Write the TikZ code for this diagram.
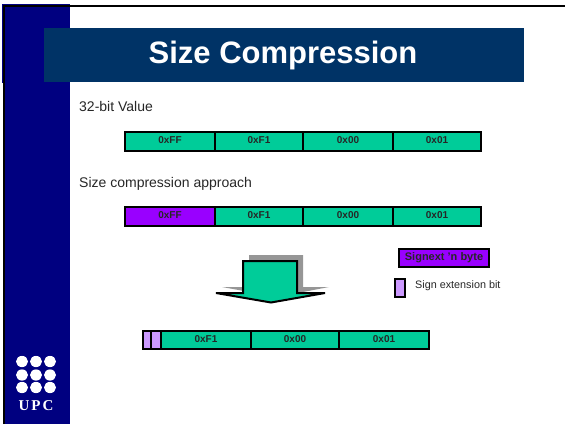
\documentclass[tikz,border=0pt]{standalone}
\usepackage{xcolor}
\usepackage{fontspec}
\setmainfont{Liberation Sans}
\newfontfamily\logofont{Liberation Serif}
\definecolor{sidenavy}{RGB}{0,0,128}
\definecolor{titleblue}{RGB}{0,51,102}
\definecolor{cellgreen}{RGB}{0,204,153}
\definecolor{bytepurple}{RGB}{153,0,255}
\definecolor{bitlilac}{RGB}{204,153,255}
\definecolor{arrowshade}{RGB}{150,150,150}
\usetikzlibrary{positioning}

\begin{document}
\begin{tikzpicture}[x=1pt, y=-1pt,
    cell/.style={rectangle, draw=black, line width=2pt, inner sep=0pt, text depth=2pt, text=black!85, font=\fontsize{10}{12}\selectfont\bfseries},
    bytecell/.style={cell, fill=cellgreen, minimum width=#1, minimum height=19pt},
    signcell/.style={cell, fill=bytepurple, minimum width=#1, minimum height=19pt},
    bitcell/.style={cell, fill=bitlilac, minimum width=#1, minimum height=18pt},
    label/.style={inner sep=0pt, anchor=west, text=black!85, font=\fontsize{14}{16}\selectfont}]
        \useasboundingbox (0,0) rectangle (565,424);

        % Side band and frame
        \fill[sidenavy] (2,4) rectangle (70,83);
        \fill[sidenavy] (4,83) rectangle (70,424);
        \draw[black, line width=2pt] (4,424) -- (4,6) -- (565,6);

        % Title
        \fill[titleblue] (44,28) rectangle (524,82);
        \node[inner sep=0pt, text=white, font=\fontsize{31}{36}\selectfont\bfseries] (title) at (283,55) {Size Compression};

        % 32-bit value
        \node[label] (valuetext) at (79,106.5) {32-bit Value};
        \node[bytecell=90pt] (ffa) at (170,141) {0xFF};
        \node[bytecell=88pt] (f1a) at (259,141) {0xF1};
        \node[bytecell=90pt] (zeroa) at (348,141) {0x00};
        \node[bytecell=88pt] (onea) at (437,141) {0x01};

        % Size compression
        \node[label] (sizetext) at (79,183.5) {Size compression approach};
        \node[signcell=90pt] (ffb) at (170,216.5) {0xFF};
        \node[bytecell=88pt] (f1b) at (259,216.5) {0xF1};
        \node[bytecell=90pt] (zerob) at (348,216.5) {0x00};
        \node[bytecell=88pt] (oneb) at (437,216.5) {0x01};

        % Big arrow
        \fill[arrowshade] (249,255) -- (303,255) -- (303,287) -- (329,287) -- (277,297) -- (222,287) -- (249,287) -- cycle;
        \fill[cellgreen] (243,261) -- (297,261) -- (297,293) -- (325,293) -- (271,302.5) -- (216,293) -- (243,293) -- cycle;
        \draw[black, line width=2pt] (216,293) -- (243,293) -- (243,261) -- (297,261) -- (297,293) -- (325,293) -- (271,302.5) -- cycle;

        % Legend
        \node[cell, fill=bytepurple, minimum width=90pt, minimum height=18pt, font=\fontsize{11}{13}\selectfont\bfseries] (signbyte) at (444,258) {Signext 'n byte};
        \node[bitcell=10pt] (signbit) at (400,288) {};
        \node[inner sep=0pt, anchor=west, text=black!85, font=\fontsize{10.8}{13}\selectfont] (signtext) at (415,285.5) {Sign extension bit};

        % Compressed value
        \node[bitcell=8pt] (bita) at (147,340) {};
        \node[bitcell=10pt] (bitb) at (156,340) {};
        \node[bytecell=90pt, minimum height=18pt] (f1c) at (206,340) {0xF1};
        \node[bytecell=88pt, minimum height=18pt] (zeroc) at (295,340) {0x00};
        \node[bytecell=90pt, minimum height=18pt] (onec) at (384,340) {0x01};

        % Logo
        \foreach \i in {22,36,50} {
            \foreach \j in {361.5,375,387.5} {
                \fill[white] (\i,\j) ellipse (6pt and 5.6pt);
            }
        }
        \node[inner sep=0pt, text=white, font=\logofont\fontsize{15}{17}\selectfont\bfseries] (logotext) at (36,406) {U\kern2pt P\kern2pt C};
    \end{tikzpicture}
\end{document}
